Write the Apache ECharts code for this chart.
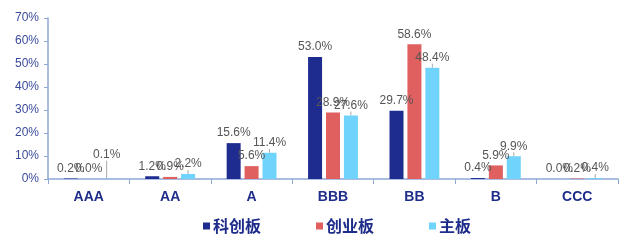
<!DOCTYPE html>
<html>
<head>
<meta charset="utf-8">
<script src="https://cdn.jsdelivr.net/npm/echarts@6/dist/echarts.min.js"></script>
<style>
  html, body { margin: 0; padding: 0; background: #fff; }
  #chart { width: 640px; height: 242px; }
</style>
</head>
<body>
<div id="chart"></div>
<script>
const categories = ['AAA', 'AA', 'A', 'BBB', 'BB', 'B', 'CCC']
const seriesNames = ['科创板', '创业板', '主板']
const kcb = [0.2, 1.2, 15.6, 53.0, 29.7, 0.4, 0.0]
const cyb = [0.0, 0.9, 5.6, 28.9, 58.6, 5.9, 0.2]
const zb = [0.1, 2.2, 11.4, 27.6, 48.4, 9.9, 0.4]
const yTicks = [0, 10, 20, 30, 40, 50, 60, 70]

const colors = ['#1f2c8f', '#e05f5f', '#6fd3fb']
const navy = '#1f2d8a'

const chart = echarts.init(document.getElementById('chart'), null, { renderer: 'canvas' })

function makeSeries(name, data, color, extra) {
  return Object.assign({
    name,
    type: 'bar',
    data,
    barWidth: 14,
    barGap: '28%',
    itemStyle: { color },
    label: {
      show: true,
      position: 'top',
      distance: 4,
      fontSize: 12,
      fontFamily: 'Liberation Sans, Arial, sans-serif',
      color: '#555',
      formatter: p => p.value.toFixed(1) + '%'
    }
  }, extra || {})
}

chart.setOption({
  animation: false,
  grid: { left: 48, right: 22, top: 18, bottom: 63, containLabel: false },
  legend: {
    bottom: 3,
    left: 198,
    itemWidth: 7,
    itemHeight: 7,
    itemGap: 55,
    icon: 'rect',
    textStyle: { fontSize: 16, fontWeight: 'bold', color: navy, fontFamily: 'Noto Sans CJK SC', padding: [0, 0, 0, -2] },
    data: seriesNames
  },
  xAxis: {
    type: 'category',
    data: categories,
    axisLine: { lineStyle: { color: '#8fa7d6', width: 1.5 } },
    axisTick: { show: true, length: 5, lineStyle: { color: '#8fa7d6' } },
    axisLabel: { fontSize: 14, fontWeight: 'bold', color: navy, margin: 11, fontFamily: 'Liberation Sans, Arial, sans-serif' }
  },
  yAxis: {
    type: 'value',
    min: yTicks[0],
    max: yTicks[yTicks.length - 1],
    interval: 10,
    axisLine: { show: true, lineStyle: { color: '#8fa7d6', width: 1.5 } },
    axisTick: { show: true, length: 4, lineStyle: { color: '#8fa7d6' } },
    splitLine: { show: false },
    axisLabel: { fontSize: 12, color: '#3a4a9c', margin: 9, formatter: '{value}%', fontFamily: 'Liberation Sans, Arial, sans-serif' }
  },
  series: [
    makeSeries(seriesNames[0], kcb, colors[0]),
    makeSeries(seriesNames[1], cyb, colors[1]),
    makeSeries(seriesNames[2], zb, colors[2], {
      labelLine: { show: true, lineStyle: { color: '#aaa', width: 1 } },
      labelLayout: p => (p.dataIndex === 0 ? { dy: -14 } : {})
    })
  ]
})
</script>
</body>
</html>
